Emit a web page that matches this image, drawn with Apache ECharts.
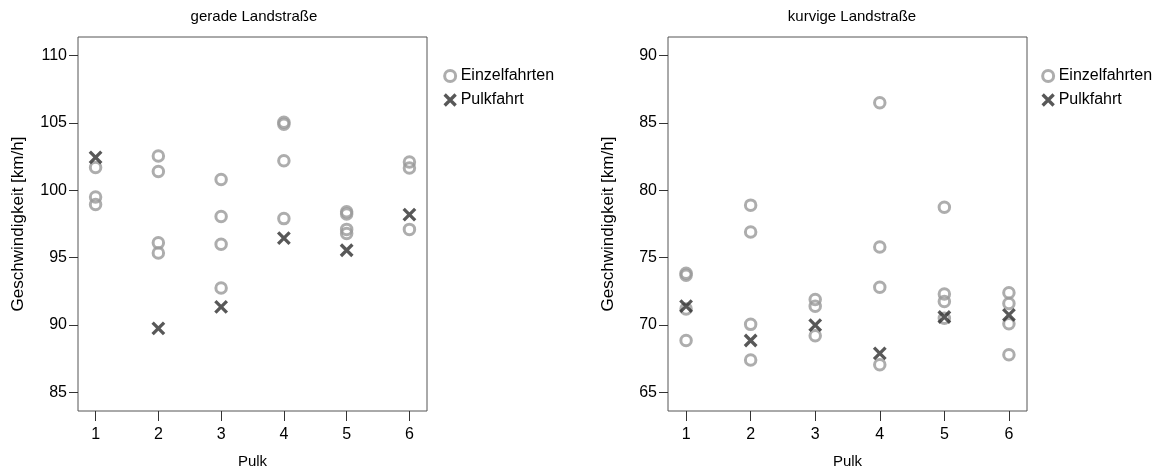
<!DOCTYPE html>
<html>
<head>
<meta charset="utf-8">
<script src="https://cdn.jsdelivr.net/npm/echarts@6/dist/echarts.min.js"></script>
<style>
  html, body { margin: 0; padding: 0; background: #fff; }
  #chart { width: 1160px; height: 470px; }
</style>
</head>
<body>
<div id="chart"></div>
<script>
// Pulk numbers on the x axis
const pulkTicks = [1, 2, 3, 4, 5, 6];
// speed ticks for each panel
const geradeTicks = [85, 90, 95, 100, 105, 110];
const kurvigTicks = [65, 70, 75, 80, 85, 90];

// gerade Landstraße: single drives per Pulk, and the Pulk drive
const geradeEinzel = [
  [101.7, 99.5, 98.95],
  [102.55, 101.4, 96.1, 95.35],
  [100.8, 98.05, 96.0, 92.75],
  [105.05, 104.9, 102.2, 97.9],
  [98.4, 98.25, 97.1, 96.8],
  [102.1, 101.65, 97.1]
];
const geradePulk = [102.45, 89.75, 91.35, 96.45, 95.55, 98.2];

// kurvige Landstraße
const kurvigEinzel = [
  [73.85, 73.7, 71.2, 68.85],
  [78.9, 76.9, 70.05, 67.4],
  [71.9, 71.4, 69.2],
  [86.5, 75.8, 72.8, 67.05],
  [78.75, 72.3, 71.75, 70.5],
  [72.4, 71.6, 70.1, 67.8]
];
const kurvigPulk = [71.4, 68.85, 70.0, 67.9, 70.6, 70.75];

const FONT = '"Liberation Sans", Arial, sans-serif';
const CIRCLE_COLOR = '#999999';
const CROSS_COLOR = '#2e2e2e';
const CROSS = 'path://M0,0L10,10M10,0L0,10';

function points(groups) {
  const out = [];
  groups.forEach((vals, i) => vals.forEach(v => out.push([pulkTicks[i], v])));
  return out;
}
function pulkPoints(vals) {
  return vals.map((v, i) => [pulkTicks[i], v]);
}

const circleStyle = { color: 'rgba(0,0,0,0)', borderColor: CIRCLE_COLOR, borderWidth: 3 };
const crossStyle = { color: 'rgba(0,0,0,0)', borderColor: CROSS_COLOR, borderWidth: 3.3 };

function xAxisFor(gridIndex) {
  return {
    gridIndex, type: 'value', min: 0.72, max: 6.28,
    name: 'Pulk', nameLocation: 'middle', nameGap: 43,
    nameTextStyle: { fontFamily: FONT, fontSize: 15, color: '#000' },
    axisLine: { show: false },
    axisTick: { show: true, length: 10, lineStyle: { color: '#333', width: 1 }, customValues: pulkTicks },
    axisLabel: { fontFamily: FONT, fontSize: 16, color: '#000', margin: 16, customValues: pulkTicks },
    splitLine: { show: false }
  };
}
function yAxisFor(gridIndex, ticks, min, max) {
  return {
    gridIndex, type: 'value', min, max,
    name: 'Geschwindigkeit [km/h]', nameLocation: 'middle', nameGap: 51,
    nameTextStyle: { fontFamily: FONT, fontSize: 17, color: '#000' },
    axisLine: { show: false },
    axisTick: { show: true, length: 9, lineStyle: { color: '#333', width: 1 }, customValues: ticks },
    axisLabel: { fontFamily: FONT, fontSize: 16, color: '#000', margin: 11, customValues: ticks },
    splitLine: { show: false }
  };
}
function legendFor(left) {
  return {
    left, top: 63, orient: 'vertical', itemGap: 8,
    itemWidth: 11, itemHeight: 11,
    textStyle: { fontFamily: FONT, fontSize: 16, color: '#000' },
    selectedMode: false,
    data: [
      { name: 'Einzelfahrten', icon: 'circle', itemStyle: circleStyle },
      { name: 'Pulkfahrt', icon: CROSS, itemStyle: crossStyle }
    ]
  };
}

const chart = echarts.init(document.getElementById('chart'), null, { renderer: 'canvas' });
chart.setOption({
  animation: false,
  backgroundColor: '#fff',
  title: [
    { text: 'gerade Landstraße', left: 249, top: 4, textAlign: 'center',
      textStyle: { fontFamily: FONT, fontSize: 15, fontWeight: 'normal', color: '#000' } },
    { text: 'kurvige Landstraße', left: 847, top: 4, textAlign: 'center',
      textStyle: { fontFamily: FONT, fontSize: 15, fontWeight: 'normal', color: '#000' } }
  ],
  legend: [legendFor(438), legendFor(1036)],
  grid: [
    { left: 78, top: 37, width: 349, height: 374, show: true, borderColor: '#555', borderWidth: 1,
      containLabel: false, outerBoundsMode: 'none' },
    { left: 668, top: 37, width: 359, height: 374, show: true, borderColor: '#555', borderWidth: 1,
      containLabel: false, outerBoundsMode: 'none' }
  ],
  xAxis: [xAxisFor(0), xAxisFor(1)],
  yAxis: [yAxisFor(0, geradeTicks, 83.62, 111.38), yAxisFor(1, kurvigTicks, 63.62, 91.38)],
  series: [
    { name: 'Einzelfahrten', type: 'scatter', xAxisIndex: 0, yAxisIndex: 0,
      symbol: 'circle', symbolSize: 10.5, itemStyle: circleStyle, data: points(geradeEinzel) },
    { name: 'Pulkfahrt', type: 'scatter', xAxisIndex: 0, yAxisIndex: 0,
      symbol: CROSS, symbolSize: 11.5, itemStyle: crossStyle, data: pulkPoints(geradePulk) },
    { name: 'Einzelfahrten', type: 'scatter', xAxisIndex: 1, yAxisIndex: 1,
      symbol: 'circle', symbolSize: 10.5, itemStyle: circleStyle, data: points(kurvigEinzel) },
    { name: 'Pulkfahrt', type: 'scatter', xAxisIndex: 1, yAxisIndex: 1,
      symbol: CROSS, symbolSize: 11.5, itemStyle: crossStyle, data: pulkPoints(kurvigPulk) }
  ]
});
</script>
</body>
</html>
